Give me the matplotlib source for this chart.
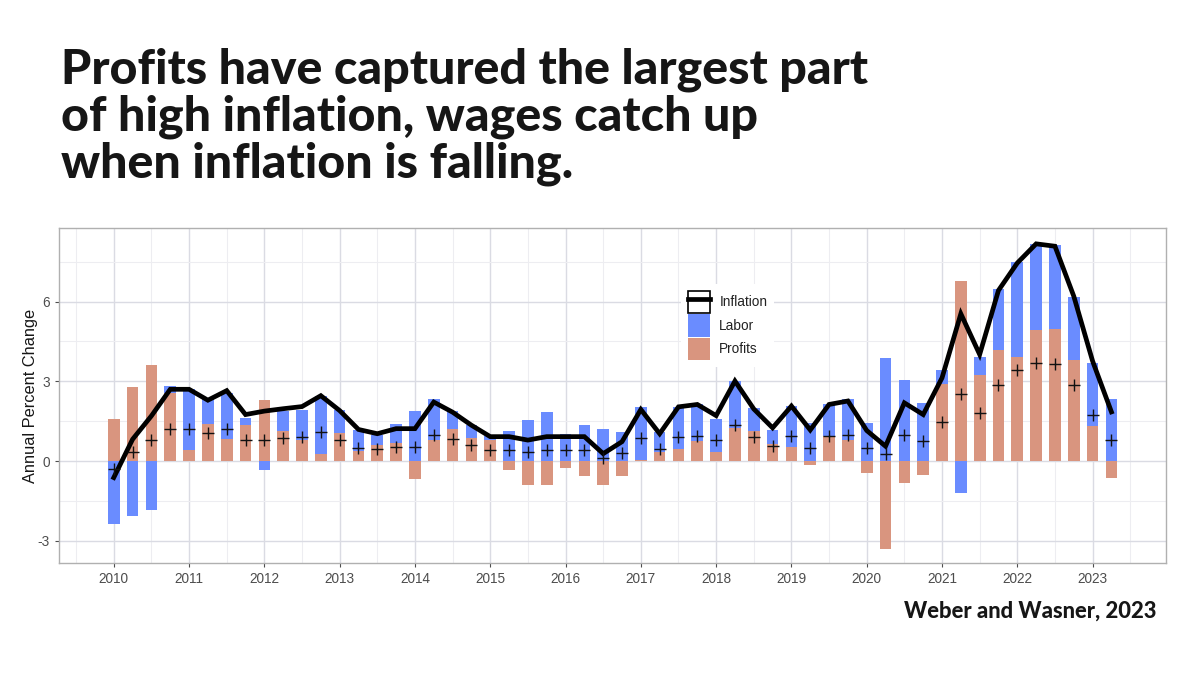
"""Profits vs labor contributions to inflation, quarterly 2010-2023 (Weber & Wasner)."""
import matplotlib
matplotlib.use("Agg")
import matplotlib.pyplot as plt
from matplotlib.lines import Line2D
from matplotlib.patches import Patch
from matplotlib.legend_handler import HandlerTuple
from matplotlib.ticker import MultipleLocator
import numpy as np

plt.rcParams["axes.unicode_minus"] = False

# ---- palette ----
BLUE = "#6a8cff"
SALMON = "#d9957f"
INK = "#161616"
TICK = "#4d4d4d"
GRID = "#dadbe3"
GRID_MINOR = "#ededf1"
BORDER = "#b0b0b0"

# ---- data, quarterly 2010Q1 .. 2023Q2 ----
years = list(range(2010, 2024))
profits = [1.57, 2.79, 3.61, 2.57, 0.40, 1.40, 0.84, 1.37, 2.28, 1.14, 0.79, 0.25,
           1.04, 0.38, 0.59, 0.69, -0.69, 0.79, 1.19, 0.88, 0.79, -0.35, -0.88, -0.88,
           -0.25, -0.56, -0.88, -0.56, 0.04, 0.34, 0.46, 0.75, 0.34, 1.25, 1.15, 0.63,
           0.54, -0.13, 0.93, 0.81, -0.44, -3.32, -0.81, -0.53, 2.91, 6.79, 3.22, 4.16,
           3.92, 4.94, 4.97, 3.82, 1.32, -0.63]
labor = [-2.38, -2.07, -1.85, 0.25, 2.30, 0.92, 1.72, 0.26, -0.35, 0.76, 1.15, 2.19,
         0.90, 0.79, 0.39, 0.69, 1.90, 1.53, 0.69, 0.47, 0.15, 1.13, 1.53, 1.84,
         1.03, 1.34, 1.21, 1.10, 2.00, 0.76, 1.57, 1.38, 1.26, 1.76, 0.83, 0.54,
         1.53, 1.45, 1.23, 1.53, 1.42, 3.86, 3.05, 2.19, 0.52, -1.19, 0.69, 2.31,
         3.57, 3.23, 3.14, 2.35, 2.38, 2.34]
inflation = [-0.62, 0.82, 1.70, 2.70, 2.70, 2.29, 2.65, 1.75, 1.88, 1.97, 2.05, 2.46,
             1.90, 1.19, 1.03, 1.22, 1.22, 2.22, 1.84, 1.35, 0.92, 0.92, 0.79, 0.92,
             0.92, 0.92, 0.28, 0.73, 1.94, 1.03, 2.04, 2.13, 1.71, 3.01, 1.96, 1.25,
             2.07, 1.17, 2.13, 2.26, 1.15, 0.56, 2.19, 1.75, 3.13, 5.54, 4.01, 6.42,
             7.45, 8.17, 8.08, 6.20, 3.76, 1.85]
marker_vals = [-0.31, 0.35, 0.79, 1.21, 1.21, 1.05, 1.19, 0.79, 0.81, 0.88, 0.92, 1.10,
               0.81, 0.50, 0.46, 0.54, 0.54, 1.00, 0.84, 0.60, 0.40, 0.40, 0.35, 0.40,
               0.40, 0.40, 0.13, 0.29, 0.86, 0.44, 0.90, 0.94, 0.78, 1.35, 0.90, 0.56,
               0.94, 0.50, 0.96, 1.00, 0.50, 0.25, 0.98, 0.75, 1.47, 2.51, 1.82, 2.88,
               3.41, 3.69, 3.67, 2.88, 1.72, 0.81]

x = 2010 + np.arange(len(inflation)) * 0.25
profits = np.array(profits)
labor = np.array(labor)

fig = plt.figure(figsize=(12, 6.75), dpi=100)
fig.patch.set_facecolor("white")
ax = fig.add_axes([0.049, 0.166, 0.923, 0.496])

# stacked bars: profits first, labor on top; negatives stack downward
width = 0.155
pos_base = np.where(profits > 0, profits, 0.0)
neg_base = np.where(profits < 0, profits, 0.0)
ax.bar(x, profits, width=width, color=SALMON, zorder=2)
labor_bottom = np.where(labor >= 0, pos_base, neg_base)
ax.bar(x, labor, width=width, bottom=labor_bottom, color=BLUE, zorder=2)

ax.plot(x, inflation, color="black", linewidth=3.4, solid_joinstyle="miter", zorder=3)
ax.plot(x, marker_vals, linestyle="none", marker="+", markersize=8,
        markeredgewidth=1.0, color="#111111", zorder=4)

# axes & grid (ggplot theme_bw-ish)
ax.set_xlim(2009.27, 2023.98)
ax.set_ylim(-3.83, 8.76)
ax.set_xticks(years)
ax.set_xticklabels([str(y) for y in years])
ax.xaxis.set_minor_locator(MultipleLocator(0.5))
ax.set_yticks([-3, 0, 3, 6])
ax.yaxis.set_minor_locator(MultipleLocator(1.5))
ax.grid(which="major", color=GRID, linewidth=1.0, zorder=0)
ax.grid(which="minor", color=GRID_MINOR, linewidth=0.8, zorder=0)
ax.set_axisbelow(True)
ax.tick_params(which="major", colors=TICK, labelsize=9.8, length=3, width=0.8,
               labelfontfamily="Liberation Sans")
ax.tick_params(which="minor", length=0)
for s in ax.spines.values():
    s.set_color(BORDER)
    s.set_linewidth(1.0)
ax.set_ylabel("Annual Percent Change", fontsize=11.8, color=INK, family="Liberation Sans")
ax.yaxis.set_label_coords(-0.019, 0.5)

# legend
h_infl = (Patch(facecolor="white", edgecolor="black", linewidth=1.2),
          Line2D([], [], color="black", linewidth=3.4))
h_lab = Patch(facecolor=BLUE, edgecolor="none")
h_prof = Patch(facecolor=SALMON, edgecolor="none")
leg = fig.legend([h_infl, h_lab, h_prof], ["Inflation", "Labor", "Profits"],
                 handler_map={tuple: HandlerTuple(ndivide=1)},
                 loc="upper left", bbox_to_anchor=(0.562, 0.5895),
                 frameon=True, framealpha=1, edgecolor="none", facecolor="white",
                 handlelength=1.6, handleheight=2.2,
                 labelspacing=0.05, borderpad=0.5, handletextpad=0.7,
                 prop={"family": "Liberation Sans", "size": 9.8})
for t in leg.get_texts():
    t.set_color("#222222")

# title & source
fig.text(0.051, 0.93,
         "Profits have captured the largest part\nof high inflation, wages catch up\nwhen inflation is falling.",
         fontsize=34.8, fontweight="black", family="Lato", color=INK,
         va="top", ha="left", linespacing=1.07)
fig.text(0.964, 0.085, "Weber and Wasner, 2023", fontsize=15.8, fontweight="black",
         family="Lato", color=INK, ha="right", va="baseline")

fig.savefig("out.png", dpi=100, facecolor="white")
